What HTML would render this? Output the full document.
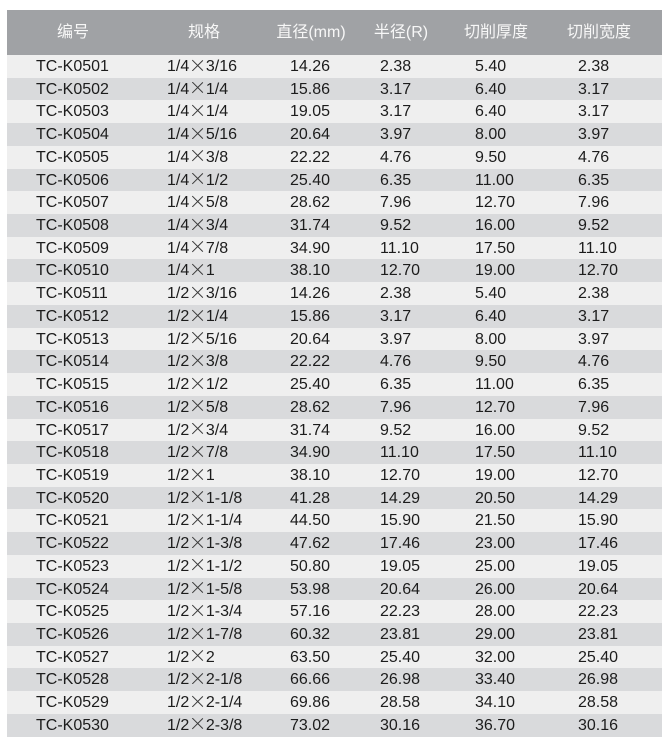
<!DOCTYPE html>
<html><head><meta charset="utf-8"><style>
html,body{margin:0;padding:0;background:#fff;}
body{width:668px;height:743px;position:relative;overflow:hidden;font-family:"Liberation Sans","Noto Sans CJK SC",sans-serif;}
.hd{position:absolute;left:7px;top:10px;width:655px;height:45px;background:#a0a2a5;}
.hd div{position:absolute;top:0;width:120px;margin-left:-60px;text-align:center;line-height:45px;font-size:16px;color:#f7f7f7;}
.tb{position:absolute;left:7px;top:55px;width:655px;}
.r{position:relative;height:22.733px;background:#efefef;}
.r:nth-child(even){background:#d9dadc;}
.r span{position:absolute;top:1px;line-height:22.733px;font-size:16px;color:#1c1c1c;white-space:nowrap;}
.c1{left:29px}.c2{left:160px}.c3{left:283px}.c4{left:373px}.c5{left:468px}.c6{left:571px}
.x{display:inline-block;position:relative;width:16.6px;height:12px;overflow:hidden;vertical-align:baseline;color:transparent;font-size:1px;font-style:normal;}
.x::before,.x::after{content:"";position:absolute;left:0.6px;top:5.6px;width:15.4px;height:1px;background:#3a3a3a;transform:rotate(45deg);}
.x::after{transform:rotate(-45deg);}
</style></head><body>
<div class="hd">
<div style="left:66px">编号</div>
<div style="left:197px">规格</div>
<div style="left:304px">直径(mm)</div>
<div style="left:394px">半径(R)</div>
<div style="left:489px">切削厚度</div>
<div style="left:592px">切削宽度</div>
</div>
<div class="tb">
<div class="r"><span class="c1">TC-K0501</span><span class="c2">1/4<i class="x">×</i>3/16</span><span class="c3">14.26</span><span class="c4">2.38</span><span class="c5">5.40</span><span class="c6">2.38</span></div>
<div class="r"><span class="c1">TC-K0502</span><span class="c2">1/4<i class="x">×</i>1/4</span><span class="c3">15.86</span><span class="c4">3.17</span><span class="c5">6.40</span><span class="c6">3.17</span></div>
<div class="r"><span class="c1">TC-K0503</span><span class="c2">1/4<i class="x">×</i>1/4</span><span class="c3">19.05</span><span class="c4">3.17</span><span class="c5">6.40</span><span class="c6">3.17</span></div>
<div class="r"><span class="c1">TC-K0504</span><span class="c2">1/4<i class="x">×</i>5/16</span><span class="c3">20.64</span><span class="c4">3.97</span><span class="c5">8.00</span><span class="c6">3.97</span></div>
<div class="r"><span class="c1">TC-K0505</span><span class="c2">1/4<i class="x">×</i>3/8</span><span class="c3">22.22</span><span class="c4">4.76</span><span class="c5">9.50</span><span class="c6">4.76</span></div>
<div class="r"><span class="c1">TC-K0506</span><span class="c2">1/4<i class="x">×</i>1/2</span><span class="c3">25.40</span><span class="c4">6.35</span><span class="c5">11.00</span><span class="c6">6.35</span></div>
<div class="r"><span class="c1">TC-K0507</span><span class="c2">1/4<i class="x">×</i>5/8</span><span class="c3">28.62</span><span class="c4">7.96</span><span class="c5">12.70</span><span class="c6">7.96</span></div>
<div class="r"><span class="c1">TC-K0508</span><span class="c2">1/4<i class="x">×</i>3/4</span><span class="c3">31.74</span><span class="c4">9.52</span><span class="c5">16.00</span><span class="c6">9.52</span></div>
<div class="r"><span class="c1">TC-K0509</span><span class="c2">1/4<i class="x">×</i>7/8</span><span class="c3">34.90</span><span class="c4">11.10</span><span class="c5">17.50</span><span class="c6">11.10</span></div>
<div class="r"><span class="c1">TC-K0510</span><span class="c2">1/4<i class="x">×</i>1</span><span class="c3">38.10</span><span class="c4">12.70</span><span class="c5">19.00</span><span class="c6">12.70</span></div>
<div class="r"><span class="c1">TC-K0511</span><span class="c2">1/2<i class="x">×</i>3/16</span><span class="c3">14.26</span><span class="c4">2.38</span><span class="c5">5.40</span><span class="c6">2.38</span></div>
<div class="r"><span class="c1">TC-K0512</span><span class="c2">1/2<i class="x">×</i>1/4</span><span class="c3">15.86</span><span class="c4">3.17</span><span class="c5">6.40</span><span class="c6">3.17</span></div>
<div class="r"><span class="c1">TC-K0513</span><span class="c2">1/2<i class="x">×</i>5/16</span><span class="c3">20.64</span><span class="c4">3.97</span><span class="c5">8.00</span><span class="c6">3.97</span></div>
<div class="r"><span class="c1">TC-K0514</span><span class="c2">1/2<i class="x">×</i>3/8</span><span class="c3">22.22</span><span class="c4">4.76</span><span class="c5">9.50</span><span class="c6">4.76</span></div>
<div class="r"><span class="c1">TC-K0515</span><span class="c2">1/2<i class="x">×</i>1/2</span><span class="c3">25.40</span><span class="c4">6.35</span><span class="c5">11.00</span><span class="c6">6.35</span></div>
<div class="r"><span class="c1">TC-K0516</span><span class="c2">1/2<i class="x">×</i>5/8</span><span class="c3">28.62</span><span class="c4">7.96</span><span class="c5">12.70</span><span class="c6">7.96</span></div>
<div class="r"><span class="c1">TC-K0517</span><span class="c2">1/2<i class="x">×</i>3/4</span><span class="c3">31.74</span><span class="c4">9.52</span><span class="c5">16.00</span><span class="c6">9.52</span></div>
<div class="r"><span class="c1">TC-K0518</span><span class="c2">1/2<i class="x">×</i>7/8</span><span class="c3">34.90</span><span class="c4">11.10</span><span class="c5">17.50</span><span class="c6">11.10</span></div>
<div class="r"><span class="c1">TC-K0519</span><span class="c2">1/2<i class="x">×</i>1</span><span class="c3">38.10</span><span class="c4">12.70</span><span class="c5">19.00</span><span class="c6">12.70</span></div>
<div class="r"><span class="c1">TC-K0520</span><span class="c2">1/2<i class="x">×</i>1-1/8</span><span class="c3">41.28</span><span class="c4">14.29</span><span class="c5">20.50</span><span class="c6">14.29</span></div>
<div class="r"><span class="c1">TC-K0521</span><span class="c2">1/2<i class="x">×</i>1-1/4</span><span class="c3">44.50</span><span class="c4">15.90</span><span class="c5">21.50</span><span class="c6">15.90</span></div>
<div class="r"><span class="c1">TC-K0522</span><span class="c2">1/2<i class="x">×</i>1-3/8</span><span class="c3">47.62</span><span class="c4">17.46</span><span class="c5">23.00</span><span class="c6">17.46</span></div>
<div class="r"><span class="c1">TC-K0523</span><span class="c2">1/2<i class="x">×</i>1-1/2</span><span class="c3">50.80</span><span class="c4">19.05</span><span class="c5">25.00</span><span class="c6">19.05</span></div>
<div class="r"><span class="c1">TC-K0524</span><span class="c2">1/2<i class="x">×</i>1-5/8</span><span class="c3">53.98</span><span class="c4">20.64</span><span class="c5">26.00</span><span class="c6">20.64</span></div>
<div class="r"><span class="c1">TC-K0525</span><span class="c2">1/2<i class="x">×</i>1-3/4</span><span class="c3">57.16</span><span class="c4">22.23</span><span class="c5">28.00</span><span class="c6">22.23</span></div>
<div class="r"><span class="c1">TC-K0526</span><span class="c2">1/2<i class="x">×</i>1-7/8</span><span class="c3">60.32</span><span class="c4">23.81</span><span class="c5">29.00</span><span class="c6">23.81</span></div>
<div class="r"><span class="c1">TC-K0527</span><span class="c2">1/2<i class="x">×</i>2</span><span class="c3">63.50</span><span class="c4">25.40</span><span class="c5">32.00</span><span class="c6">25.40</span></div>
<div class="r"><span class="c1">TC-K0528</span><span class="c2">1/2<i class="x">×</i>2-1/8</span><span class="c3">66.66</span><span class="c4">26.98</span><span class="c5">33.40</span><span class="c6">26.98</span></div>
<div class="r"><span class="c1">TC-K0529</span><span class="c2">1/2<i class="x">×</i>2-1/4</span><span class="c3">69.86</span><span class="c4">28.58</span><span class="c5">34.10</span><span class="c6">28.58</span></div>
<div class="r"><span class="c1">TC-K0530</span><span class="c2">1/2<i class="x">×</i>2-3/8</span><span class="c3">73.02</span><span class="c4">30.16</span><span class="c5">36.70</span><span class="c6">30.16</span></div>
</div>
</body></html>
